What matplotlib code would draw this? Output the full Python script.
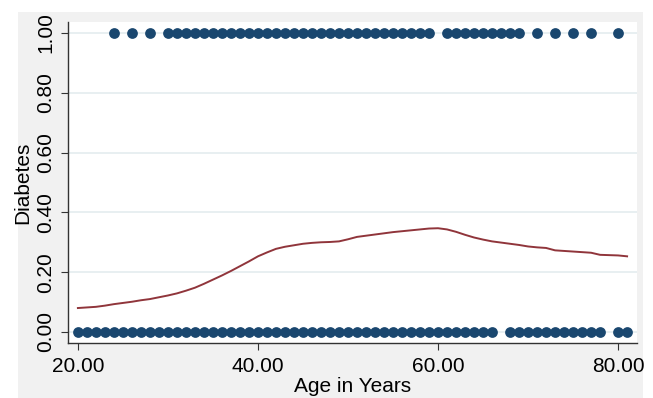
import numpy as np
import matplotlib
matplotlib.use("Agg")
import matplotlib.pyplot as plt
from matplotlib.patches import Rectangle

# ages with diabetes = 1 and diabetes = 0
ages_yes = [24, 26, 28] + list(range(30, 60)) + list(range(61, 70)) + [71, 73, 75, 77, 80]
ages_no = list(range(20, 67)) + list(range(68, 79)) + [80, 81]

# smoothed curve (lowess)
smooth_age = list(range(20, 82))
smooth_val = [0.080, 0.082, 0.084, 0.088, 0.093, 0.097, 0.101, 0.106, 0.110, 0.116,
              0.122, 0.129, 0.138, 0.148, 0.161, 0.175, 0.189, 0.204, 0.220, 0.236,
              0.253, 0.266, 0.278, 0.285, 0.290, 0.295, 0.298, 0.300, 0.301, 0.303,
              0.310, 0.318, 0.322, 0.326, 0.330, 0.334, 0.337, 0.340, 0.343, 0.346,
              0.347, 0.343, 0.335, 0.325, 0.316, 0.309, 0.303, 0.299, 0.295, 0.291,
              0.286, 0.283, 0.281, 0.273, 0.271, 0.269, 0.267, 0.265, 0.258, 0.257,
              0.256, 0.253]

xticks = [20, 40, 60, 80]
yticks = [0.0, 0.2, 0.4, 0.6, 0.8, 1.0]

plt.rcParams["font.family"] = ["Liberation Sans", "DejaVu Sans"]

fig = plt.figure(figsize=(6.53, 3.98), dpi=100)
fig.patch.set_facecolor("white")
# gray graph region behind the plot area
bg = Rectangle((18 / 653, 0), (643 - 18) / 653, (398 - 12) / 398,
               transform=fig.transFigure, facecolor="#f1f1f1",
               edgecolor="none", zorder=-10)
fig.add_artist(bg)

ax = fig.add_axes([68 / 653, 55 / 398, (637 - 68) / 653, (343 - 22) / 398])
ax.set_zorder(1)
ax.set_facecolor("white")

navy = "#1a476f"
maroon = "#90353b"

ax.scatter(ages_yes, [1] * len(ages_yes), s=60, color=navy, zorder=3, linewidths=0)
ax.scatter(ages_no, [0] * len(ages_no), s=60, color=navy, zorder=3, linewidths=0)
ax.plot(smooth_age, smooth_val, color=maroon, lw=1.4, zorder=2)

ax.set_xlim(18.9, 82.1)
ax.set_ylim(-0.037, 1.037)
ax.set_xticks(xticks)
ax.set_xticklabels([f"{t:.2f}" for t in xticks])
ax.set_yticks(yticks)
ax.set_yticklabels([f"{t:.2f}" for t in yticks], rotation=90, va="center")
ax.tick_params(labelsize=15, length=5, color="#333333")
ax.tick_params(axis="x", pad=5)
ax.tick_params(axis="y", pad=4)
ax.yaxis.grid(True, color="#e4ecef", lw=1.2)
ax.set_axisbelow(True)

for side in ["top", "right"]:
    ax.spines[side].set_visible(False)
for side in ["left", "bottom"]:
    ax.spines[side].set_color("#333333")
    ax.spines[side].set_linewidth(1.0)

ax.set_xlabel("Age in Years", fontsize=15, labelpad=1)
ax.set_ylabel("Diabetes", fontsize=15, labelpad=3)

fig.savefig("out.png", dpi=100)
